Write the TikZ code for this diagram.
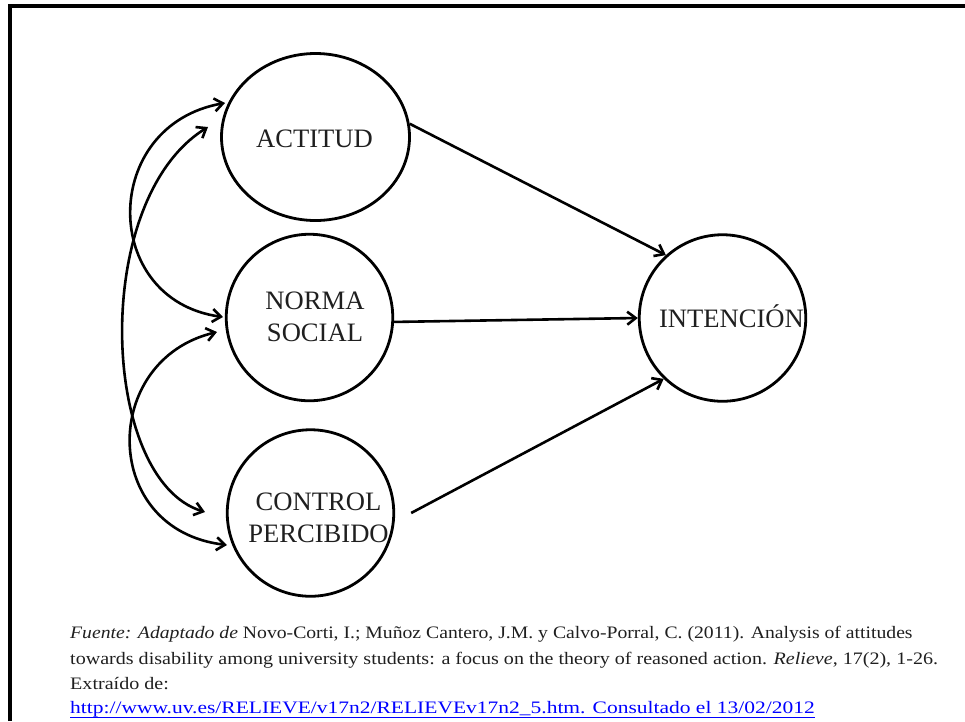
\documentclass[tikz,border=0pt]{standalone}
\usepackage{fontspec}
\setmainfont{Liberation Serif}
\newfontfamily\capfont[FakeStretch=1.147]{Liberation Serif}
\newfontfamily\capfontA[FakeStretch=1.125]{Liberation Serif}
\newfontfamily\capfontU[FakeStretch=1.228]{Liberation Serif}
\usetikzlibrary{shapes.geometric,arrows.meta}
\begin{document}
\begin{tikzpicture}[x=1pt,y=-1pt,
  bubble/.style={draw, line width=2.8pt, inner sep=0pt},
  lab/.style={font=\fontsize{26.6}{32}\selectfont, text=black!88, align=center, inner sep=0pt},
  conn/.style={line width=2.6pt, -{Straight Barb[length=8.5pt,width=13pt]}},
  dconn/.style={line width=2.6pt, {Straight Barb[length=8.5pt,width=13pt]}-{Straight Barb[length=8.5pt,width=13pt]}},
  captext/.style={anchor=base west, inner sep=0pt, font=\capfont\fontsize{17.5}{20}\selectfont, text=black!88},
  framestroke/.style={line width=4pt, line join=miter}
]
\useasboundingbox (0,0) rectangle (965,721);
\draw[framestroke] (10,721) -- (10,5.5) -- (965,5.5);

% circles
\node[bubble, ellipse, minimum width=188pt, minimum height=167pt] (actitud) at (315.5,137) {};
\node[bubble, circle, minimum size=166.5pt] (norma) at (309.5,317.5) {};
\node[bubble, circle, minimum size=166.5pt] (control) at (310.5,513) {};
\node[bubble, circle, minimum size=166.5pt] (intencion) at (722.5,318) {};

% labels
\node[lab, anchor=base] (tact) at (314.5,147) {ACTITUD};
\node[lab, anchor=center] (tnor) at (315,317) {NORMA\\SOCIAL};
\node[lab, anchor=center] (tcon) at (318.5,518) {CONTROL\\PERCIBIDO};
\node[lab, anchor=base] (tint) at (731.5,327) {INTENCIÓN};

% straight connectors
\coordinate (cstart) at ([xshift=16pt]control.east);
\draw[conn] (actitud.8) -- (intencion.132);
\draw[conn] (norma.-3) -- (intencion.180);
\draw[conn] (cstart) -- (intencion.226);

% curved double arrows
\coordinate (a1) at (225,103); \coordinate (a2) at (223,317);
\coordinate (b1) at (208,127); \coordinate (b2) at (205,512);
\coordinate (c1) at (217,332); \coordinate (c2) at (227,545);
\draw[dconn] (a1) .. controls (100,125) and (100,300) .. (a2);
\draw[dconn] (b1) .. controls (90,200) and (100,480) .. (b2);
\draw[dconn] (c1) .. controls (100,360) and (100,530) .. (c2);

% caption
\node[captext, font=\capfontA\fontsize{17.5}{20}\selectfont] (l1) at (70,638) {\textit{Fuente: Adaptado de} Novo-Corti, I.; Muñoz Cantero, J.M. y Calvo-Porral, C. (2011). Analysis of attitudes};
\node[captext] (l2) at (70,664) {towards disability among university students: a focus on the theory of reasoned action. \textit{Relieve}, 17(2), 1-26.};
\node[captext] (l3) at (70,689) {Extraído de:};
\node[captext, font=\capfontU\fontsize{17.5}{20}\selectfont, text=blue] (l4) at (70,713) {http://www.uv.es/RELIEVE/v17n2/RELIEVEv17n2\_5.htm. Consultado el 13/02/2012};
\draw[blue, line width=1pt] ([yshift=-4pt]l4.base west) -- ([yshift=-4pt]l4.base east);
\end{tikzpicture}
\end{document}
